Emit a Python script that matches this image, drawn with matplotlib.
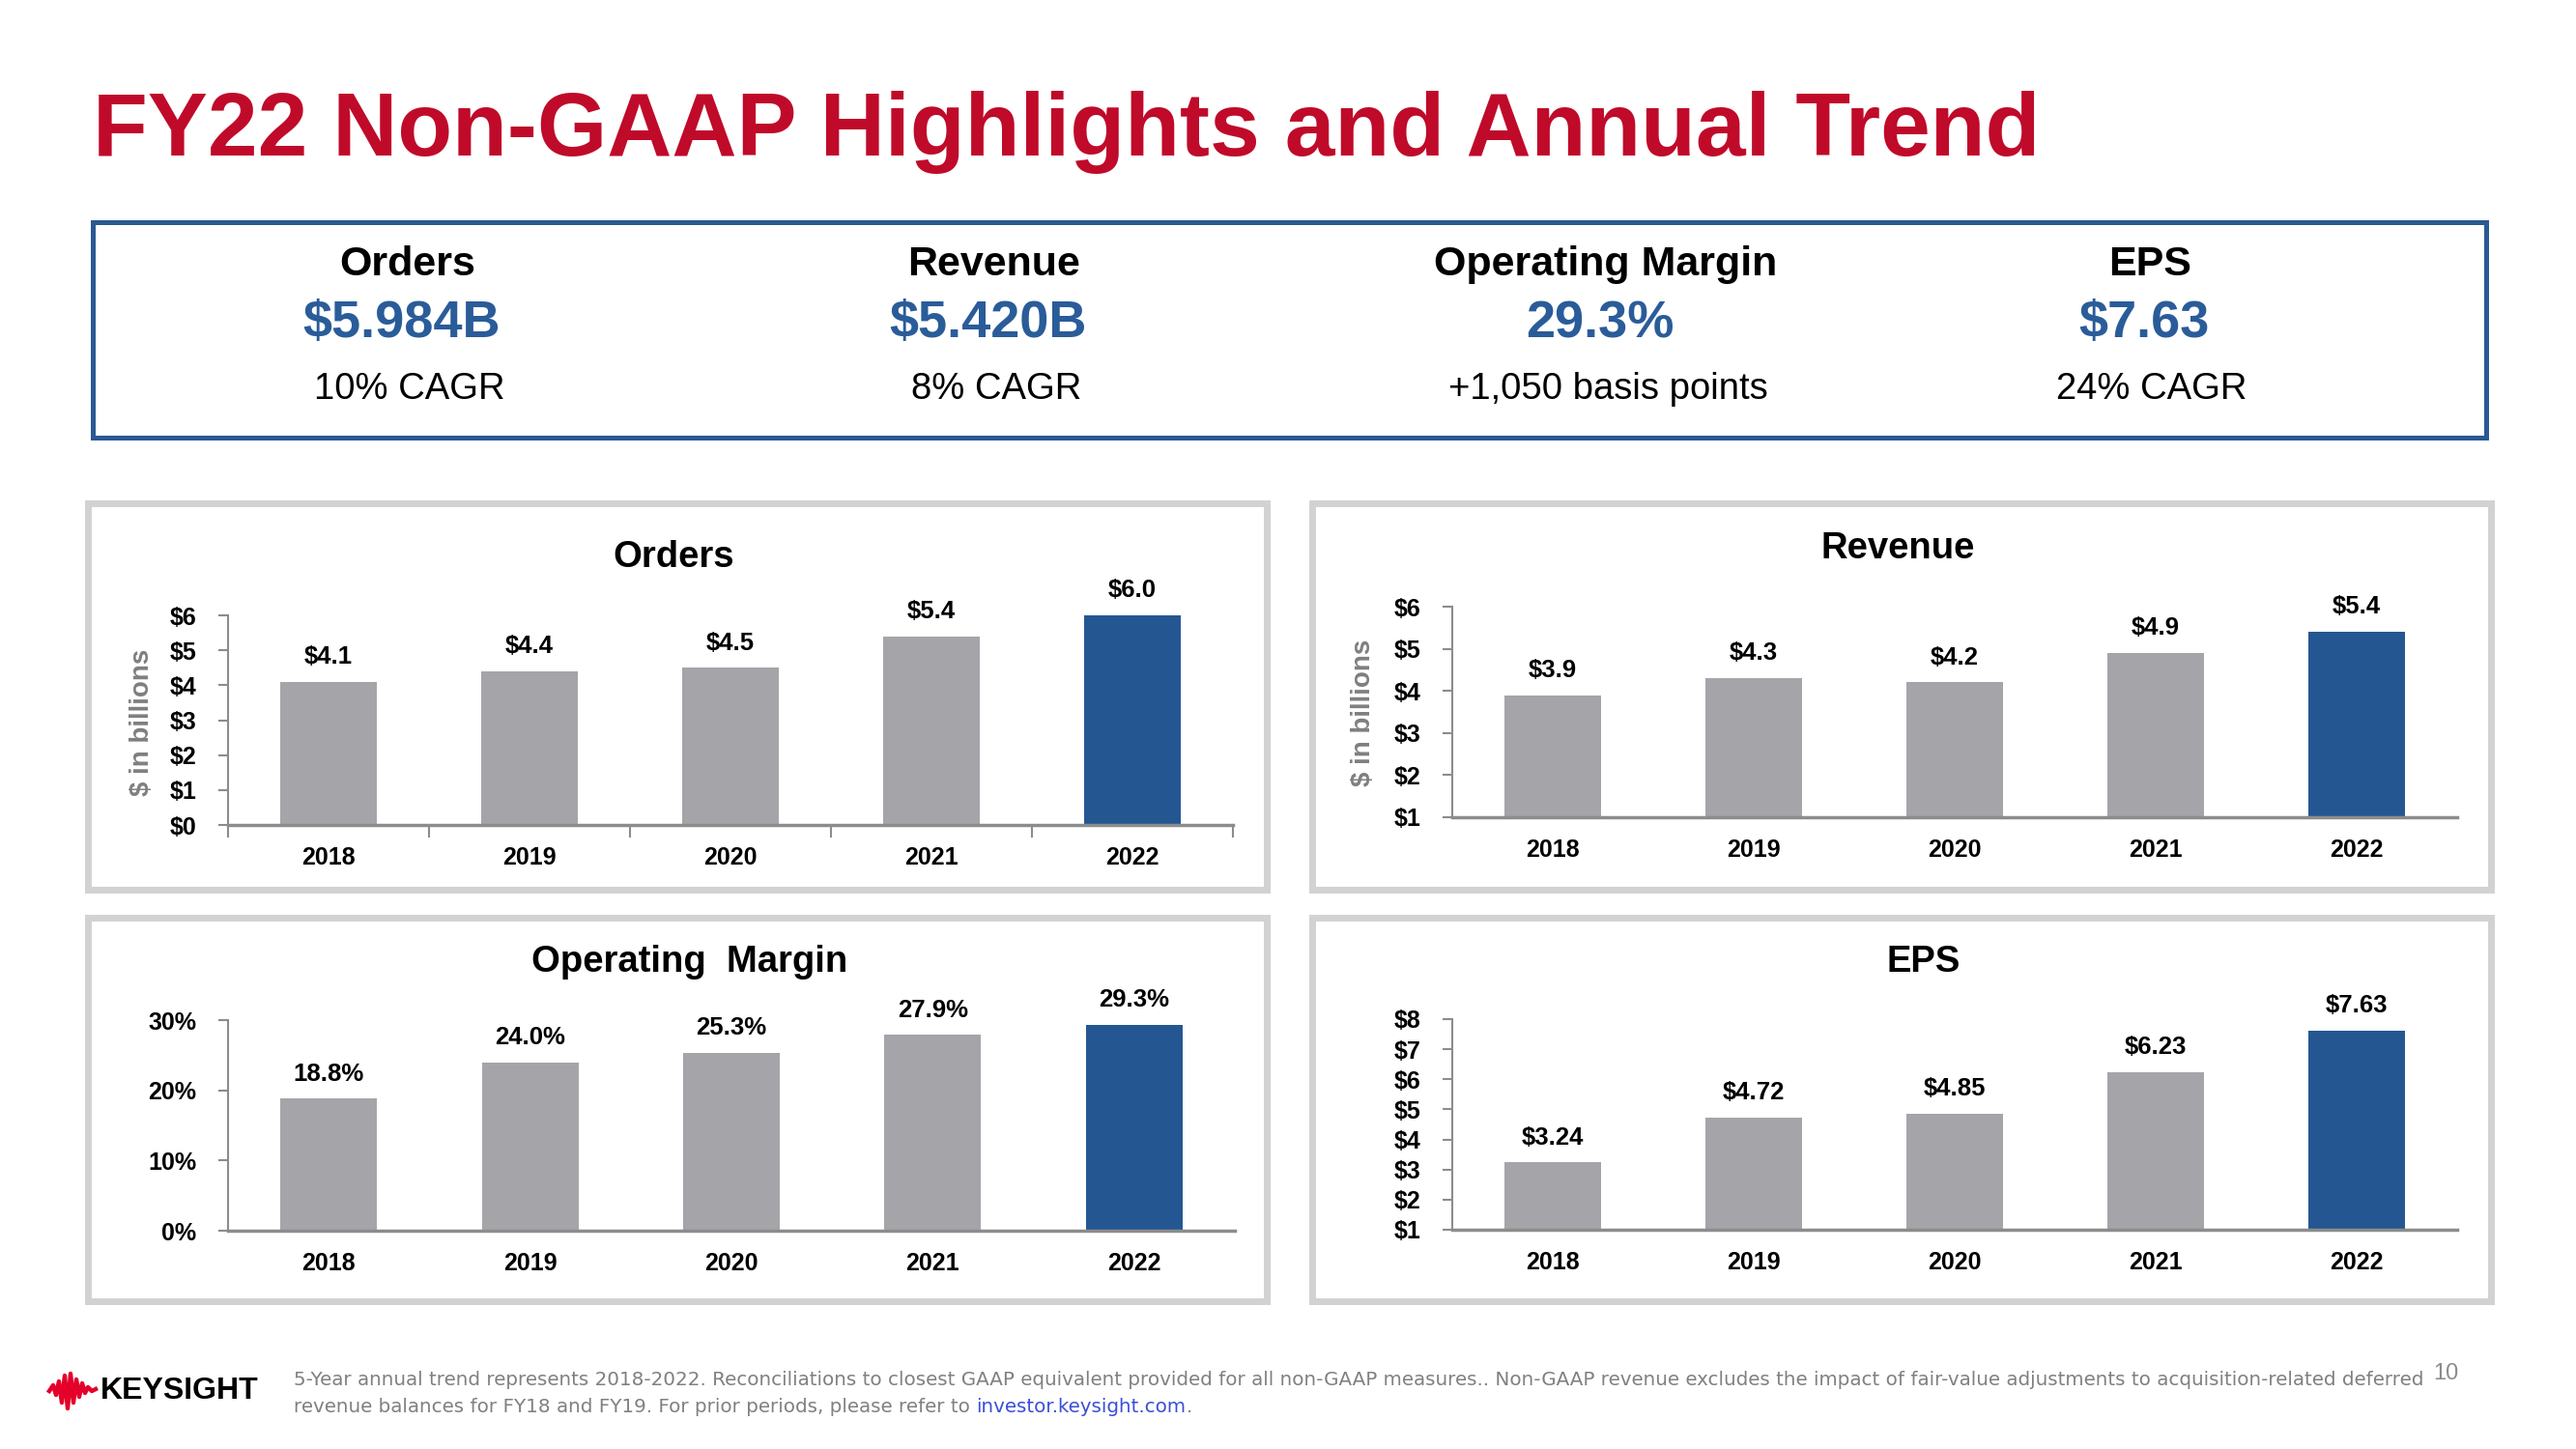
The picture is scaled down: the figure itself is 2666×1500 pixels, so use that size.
import matplotlib.pyplot as plt
from matplotlib.patches import Rectangle
from matplotlib.lines import Line2D

plt.rcParams['font.family'] = ['Liberation Sans', 'DejaVu Sans']
plt.rcParams['text.parse_math'] = False

# ---------------- data ----------------
years = ['2018', '2019', '2020', '2021', '2022']

orders = [4.1, 4.4, 4.5, 5.4, 6.0]
orders_lbl = ['$4.1', '$4.4', '$4.5', '$5.4', '$6.0']

revenue = [3.9, 4.3, 4.2, 4.9, 5.4]
revenue_lbl = ['$3.9', '$4.3', '$4.2', '$4.9', '$5.4']

op_margin = [18.8, 24.0, 25.3, 27.9, 29.3]
op_margin_lbl = ['18.8%', '24.0%', '25.3%', '27.9%', '29.3%']

eps = [3.24, 4.72, 4.85, 6.23, 7.63]
eps_lbl = ['$3.24', '$4.72', '$4.85', '$6.23', '$7.63']

kpi_names = ['Orders', 'Revenue', 'Operating Margin', 'EPS']
kpi_values = ['$5.984B', '$5.420B', '29.3%', '$7.63']
kpi_notes = ['10% CAGR', '8% CAGR', '+1,050 basis points', '24% CAGR']

footer_1 = ('5-Year annual trend represents 2018-2022. Reconciliations to closest GAAP equivalent '
            'provided for all non-GAAP measures.. Non-GAAP revenue excludes the impact of fair-value '
            'adjustments to acquisition-related deferred')
footer_2 = 'revenue balances for FY18 and FY19. For prior periods, please refer to '
footer_link = 'investor.keysight.com'

# ---------------- style ----------------
W, H = 2666, 1500
GRAY_BAR = '#a5a4a9'
BLUE = '#245791'
AXIS_GRAY = '#8c8c8c'
PANEL_GRAY = '#d2d2d2'
TITLE_RED = '#c00a2a'
FOOT_FS = 14.3

fig = plt.figure(figsize=(W / 100, H / 100), dpi=100)
fig.patch.set_facecolor('white')

# background layer in pixel coordinates (y down)
bg = fig.add_axes([0, 0, 1, 1])
bg.set_xlim(0, W)
bg.set_ylim(H, 0)
bg.axis('off')
bg.set_zorder(-1)

# title
bg.text(96, 161, 'FY22 Non-GAAP Highlights and Annual Trend', fontsize=67, fontweight='bold',
        color=TITLE_RED, ha='left', va='baseline')

# KPI box
bg.add_patch(Rectangle((96, 230), 2573 - 96, 453 - 230, fill=False, ec='#2b5993', lw=3.6))
kpi_x = [422, 1029, 1662, 2225]
for i in range(len(kpi_names)):
    bg.text(kpi_x[i], 274, kpi_names[i], fontsize=31, fontweight='bold', ha='center', va='center')
    bg.text(kpi_x[i] - 6, 335, kpi_values[i], fontsize=39, fontweight='bold', color='#2a5c99',
            ha='center', va='center')
    bg.text(kpi_x[i] + 2, 403, kpi_notes[i], fontsize=27.5, ha='center', va='center')

# panel frames
panels = [(91, 521, 1311, 921), (1358, 521, 2578, 921), (91, 950, 1311, 1347), (1358, 950, 2578, 1347)]
for (x0, y0, x1, y1) in panels:
    bg.add_patch(Rectangle((x0, y0), x1 - x0, y1 - y0, fill=False, ec=PANEL_GRAY, lw=5))

# panel titles
bg.text(697, 577, 'Orders', fontsize=27.5, fontweight='bold', ha='center', va='center')
bg.text(1964, 568, 'Revenue', fontsize=27.5, fontweight='bold', ha='center', va='center')
bg.text(714, 996, 'Operating  Margin', fontsize=27.5, fontweight='bold', ha='center', va='center')
bg.text(1991, 996, 'EPS', fontsize=27.5, fontweight='bold', ha='center', va='center')

# y-axis captions
bg.text(147, 748, '$ in billions', fontsize=20, fontweight='bold', color='#7f7f7f',
        rotation=90, ha='center', va='center')
bg.text(1411, 738, '$ in billions', fontsize=20, fontweight='bold', color='#7f7f7f',
        rotation=90, ha='center', va='center')


def bar_chart(px, values, labels, ylim, yticks, yticklabels, cat_ticks=False):
    x0, x1, ytop, ybot = px
    ax = fig.add_axes([x0 / W, 1 - ybot / H, (x1 - x0) / W, (ybot - ytop) / H])
    ax.set_facecolor('none')
    colors = [GRAY_BAR] * (len(values) - 1) + [BLUE]
    xs = list(range(len(values)))
    ax.bar(xs, values, width=0.48, color=colors, zorder=2)
    ax.set_xlim(-0.5, len(values) - 0.5)
    ax.set_ylim(*ylim)
    for i in xs:
        ax.annotate(labels[i], (i, values[i]), xytext=(0, 18.5), textcoords='offset points',
                    ha='center', va='center', fontsize=18.5, fontweight='bold',
                    annotation_clip=False)
    ax.set_xticks(xs)
    ax.set_xticklabels(years, fontsize=18, fontweight='bold')
    ax.set_yticks(yticks)
    ax.set_yticklabels(yticklabels, fontsize=18, fontweight='bold')
    ax.tick_params(axis='x', which='major', length=0, pad=16)
    ax.tick_params(axis='y', length=7.5, width=1.5, color=AXIS_GRAY, pad=16)
    if cat_ticks:
        ax.set_xticks([i - 0.5 for i in range(len(values) + 1)], minor=True)
        ax.tick_params(axis='x', which='minor', length=9, width=1.5, color=AXIS_GRAY)
    for s in ['top', 'right']:
        ax.spines[s].set_visible(False)
    ax.spines['left'].set_color(AXIS_GRAY)
    ax.spines['left'].set_linewidth(1.5)
    ax.spines['bottom'].set_color(AXIS_GRAY)
    ax.spines['bottom'].set_linewidth(2.5)
    ax.spines['bottom'].set_zorder(3)
    return ax


bar_chart((236, 1276, 637, 854), orders, orders_lbl, (0, 6), [0, 1, 2, 3, 4, 5, 6],
          ['$0', '$1', '$2', '$3', '$4', '$5', '$6'], cat_ticks=True)
bar_chart((1503, 2543, 628, 846), revenue, revenue_lbl, (1, 6), [1, 2, 3, 4, 5, 6],
          ['$1', '$2', '$3', '$4', '$5', '$6'])
bar_chart((236, 1278, 1056, 1274), op_margin, op_margin_lbl, (0, 30), [0, 10, 20, 30],
          ['0%', '10%', '20%', '30%'])
bar_chart((1503, 2543, 1055, 1273), eps, eps_lbl, (1, 8), [1, 2, 3, 4, 5, 6, 7, 8],
          ['$1', '$2', '$3', '$4', '$5', '$6', '$7', '$8'])

# footer: logo
wave_x = [51, 55, 58, 61, 64, 67, 70, 73, 76, 79, 82, 85, 88, 91, 95, 99]
wave_y = [1440, 1434, 1444, 1430, 1452, 1424, 1458, 1422, 1452, 1428, 1446, 1432, 1442, 1436, 1440, 1438]
bg.add_line(Line2D(wave_x, wave_y, color='#e4002b', lw=3.2, solid_joinstyle='round'))
bg.text(104, 1440, 'KEYSIGHT', fontsize=23, fontweight='bold', ha='left', va='center')

# footer: note
t1 = bg.text(304, 1428, footer_1, fontsize=FOOT_FS, color='#808080', ha='left', va='center',
             family=['DejaVu Sans'])
t2 = bg.text(304, 1456, footer_2, fontsize=FOOT_FS, color='#808080', ha='left', va='center',
             family=['DejaVu Sans'])
t3 = bg.annotate(footer_link, xy=(1, 0), xycoords=t2, fontsize=FOOT_FS, color='#3b4fd6',
                 ha='left', va='bottom', family=['DejaVu Sans'])
bg.annotate('.', xy=(1, 0), xycoords=t3, fontsize=FOOT_FS, color='#808080', ha='left', va='bottom',
            family=['DejaVu Sans'])
bg.text(2531, 1422, '10', fontsize=17, color='#8c8c8c', ha='center', va='center')

plt.savefig('out.png', dpi=100)
plt.close(fig)
